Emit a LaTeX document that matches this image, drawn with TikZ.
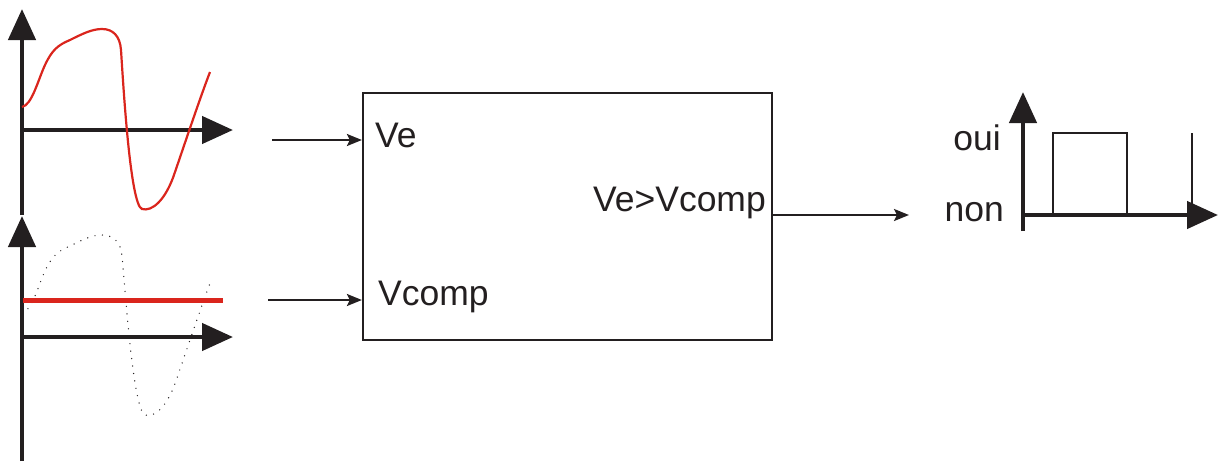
\documentclass[tikz,border=0pt]{standalone}
\usepackage{fontspec}
\setmainfont{Liberation Sans}
\usetikzlibrary{arrows.meta}
\definecolor{ink}{RGB}{35,31,32}
\definecolor{sigred}{RGB}{218,37,29}
\tikzset{
  axis/.style={draw=ink, line width=4.5pt, -{Triangle[length=31pt,width=27pt]}},
  axisplain/.style={draw=ink, line width=4.5pt},
  conn/.style={draw=ink, line width=2.4pt, -{Stealth[length=15pt,width=12pt,inset=3pt]}},
  lbl/.style={font=\fontsize{35.5}{40}\selectfont, text=ink, inner sep=0pt},
  wave/.style={draw=sigred, line width=2.2pt},
  dotwave/.style={draw=ink, line width=1.4pt, line cap=round, dash pattern=on 0pt off 7.5pt},
}
\begin{document}
\begin{tikzpicture}[x=1pt,y=-1pt]
\useasboundingbox (0,0) rectangle (1218,461);
% ---- top input graph
\coordinate (t0) at (22,130);
\draw[axisplain] (22,215) -- (t0);
\draw[axis] (t0) -- (22,9);
\draw[axis] (t0) -- (233,130);
\draw[wave] (22,107) .. controls (32,105) and (38,80) .. (45,65)
  .. controls (52,50) and (58,45) .. (70,40)
  .. controls (82,34) and (92,29) .. (102,29)
  .. controls (113,29) and (120,36) .. (121,50)
  .. controls (123,80) and (130,205) .. (142,209)
  .. controls (152,212) and (166,200) .. (175,172)
  .. controls (186,140) and (200,98) .. (210,72);
% ---- bottom input graph
\coordinate (b0) at (22,337);
\draw[axisplain] (22,461) -- (b0);
\draw[axis] (b0) -- (22,216);
\draw[axis] (b0) -- (233,337);
\draw[dotwave] (22,313) .. controls (32,311) and (38,286) .. (45,271)
  .. controls (52,256) and (58,251) .. (70,246)
  .. controls (82,240) and (92,235) .. (102,235)
  .. controls (113,235) and (121,242) .. (122,256)
  .. controls (125,286) and (133,411) .. (145,415)
  .. controls (155,418) and (168,406) .. (177,378)
  .. controls (188,346) and (202,304) .. (212,278);
\draw[draw=sigred, line width=5pt] (23,300) -- (223,300);
% ---- comparator box
\node[draw=ink, line width=2.2pt, minimum width=409pt, minimum height=247pt, inner sep=0pt] (box) at (567.5,216.5) {};
\node[lbl, anchor=west] (ve) at (375,135) {Ve};
\node[lbl, anchor=west] (vcomp) at (378,297) {Vcomp};
\node[lbl, anchor=east] (out) at (766,203) {Ve>Vcomp};
\coordinate (vein) at (272,140);
\coordinate (vcompin) at (268,300);
\coordinate (outend) at (909,215);
\draw[conn] (vein) -- (box.west |- vein);
\draw[conn] (vcompin) -- (box.west |- vcompin);
\draw[conn] (box.east |- outend) -- (outend);
% ---- output graph
\coordinate (o0) at (1023,215);
\draw[axisplain] (1023,231) -- (o0);
\draw[axis] (o0) -- (1023,92);
\draw[axis] (o0) -- (1218,215);
\draw[draw=ink, line width=1.8pt] (1053,215) -- (1053,133) -- (1127,133) -- (1127,215);
\draw[draw=ink, line width=2.4pt] (1192,133) -- (1192,215);
\node[lbl, anchor=east] (oui) at (1001,138) {oui};
\node[lbl, anchor=east] (non) at (1004,212) {non};
\end{tikzpicture}
\end{document}
